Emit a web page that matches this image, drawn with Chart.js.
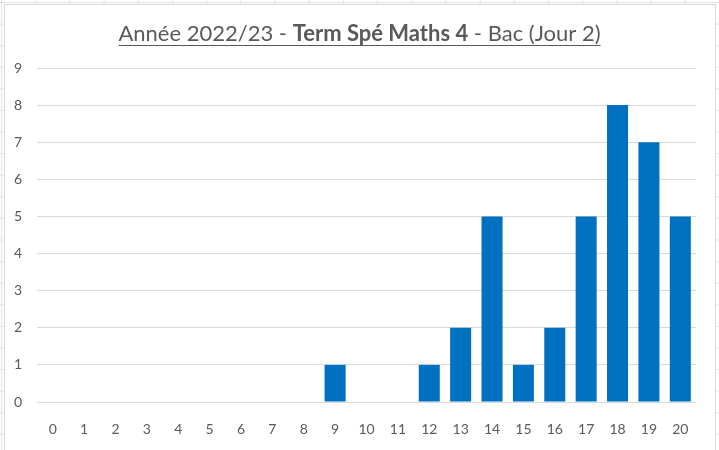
<!DOCTYPE html>
<html>
<head>
<meta charset="utf-8">
<script src="https://cdn.jsdelivr.net/npm/chart.js@4.4.1/dist/chart.umd.min.js"></script>
<style>
  html, body { margin:0; padding:0; }
  body {
    width:719px; height:450px; overflow:hidden;
    background-color:#fff;
    /* cellules du tableur derrière le graphique */
    background-image:
      linear-gradient(to right, #e3e3e3 1px, transparent 1px),
      linear-gradient(to bottom, #e3e3e3 1px, transparent 1px);
    background-size: 34.2px 21.6px;
    background-position: 1px 2px;
  }
  #wrap { position:absolute; left:0; top:0; width:719px; height:450px; }
</style>
</head>
<body>
<div id="wrap"><canvas id="chart" width="719" height="450"></canvas></div>
<script>
// Notes (0 à 20) et nombre d'élèves
const notes   = ['0','1','2','3','4','5','6','7','8','9','10','11','12','13','14','15','16','17','18','19','20'];
const effectifs = [0,0,0,0,0,0,0,0,0,1,0,0,1,2,5,1,2,5,8,7,5];
const yTicks  = [0,1,2,3,4,5,6,7,8,9];

// morceaux du titre : [texte, gras ?]
const titreParts = [
  ['Année 2022/23 - ', false],
  ['Term Spé Maths 4', true],
  [' - Bac (Jour 2)', false]
];

const FONT = 'Lato, "Open Sans", sans-serif';
const GRIS = '#595959';

// fond blanc + bordure du graphique
const chartBg = {
  id:'chartBg',
  beforeDraw(chart){
    const c = chart.ctx;
    c.save();
    c.fillStyle = '#fff';
    c.fillRect(4, 4, 712, 460);
    c.strokeStyle = '#d9d9d9';
    c.lineWidth = 1;
    c.strokeRect(4.5, 4.5, 711, 460);
    c.restore();
  }
};

// titre avec une partie en gras, souligné
const titreMixte = {
  id:'titreMixte',
  afterDraw(chart){
    const c = chart.ctx;
    const size = 22;
    c.save();
    c.textBaseline = 'alphabetic';
    let total = 0;
    const widths = titreParts.map(([t,b]) => {
      c.font = (b ? 'bold ' : '') + size + 'px ' + FONT;
      const w = c.measureText(t).width;
      total += w;
      return w;
    });
    let x = 359.5 - total/2;
    const y = 41;
    c.fillStyle = GRIS;
    titreParts.forEach(([t,b], i) => {
      c.font = (b ? 'bold ' : '') + size + 'px ' + FONT;
      c.fillText(t, x, y);
      x += widths[i];
    });
    c.strokeStyle = GRIS;
    c.lineWidth = 1.2;
    c.beginPath();
    c.moveTo(359.5 - total/2, y + 4.5);
    c.lineTo(359.5 + total/2, y + 4.5);
    c.stroke();
    c.restore();
  }
};

new Chart(document.getElementById('chart'), {
  type:'bar',
  data:{
    labels: notes,
    datasets:[{
      data: effectifs,
      backgroundColor:'#0070C0',
      borderWidth:0,
      categoryPercentage:0.67,
      barPercentage:1
    }]
  },
  options:{
    responsive:false,
    animation:false,
    layout:{ padding:{ left:0, top:68, right:23, bottom:0 } },
    plugins:{ legend:{display:false}, tooltip:{enabled:false}, title:{display:false} },
    scales:{
      x:{
        grid:{ display:false },
        border:{ display:false },
        ticks:{ color:GRIS, font:{ family:FONT, size:14 }, padding:11, maxRotation:0, autoSkip:false },
        afterFit(axis){ axis.height = 48; }
      },
      y:{
        min:0, max:9,
        afterBuildTicks(axis){ axis.ticks = yTicks.map(v => ({ value:v })); },
        grid:{ color:'#d9d9d9', drawTicks:false },
        border:{ display:false },
        ticks:{ color:GRIS, font:{ family:FONT, size:14 }, padding:15 },
        afterFit(axis){ axis.width = 37; }
      }
    }
  },
  plugins:[chartBg, titreMixte]
});
</script>
</body>
</html>
